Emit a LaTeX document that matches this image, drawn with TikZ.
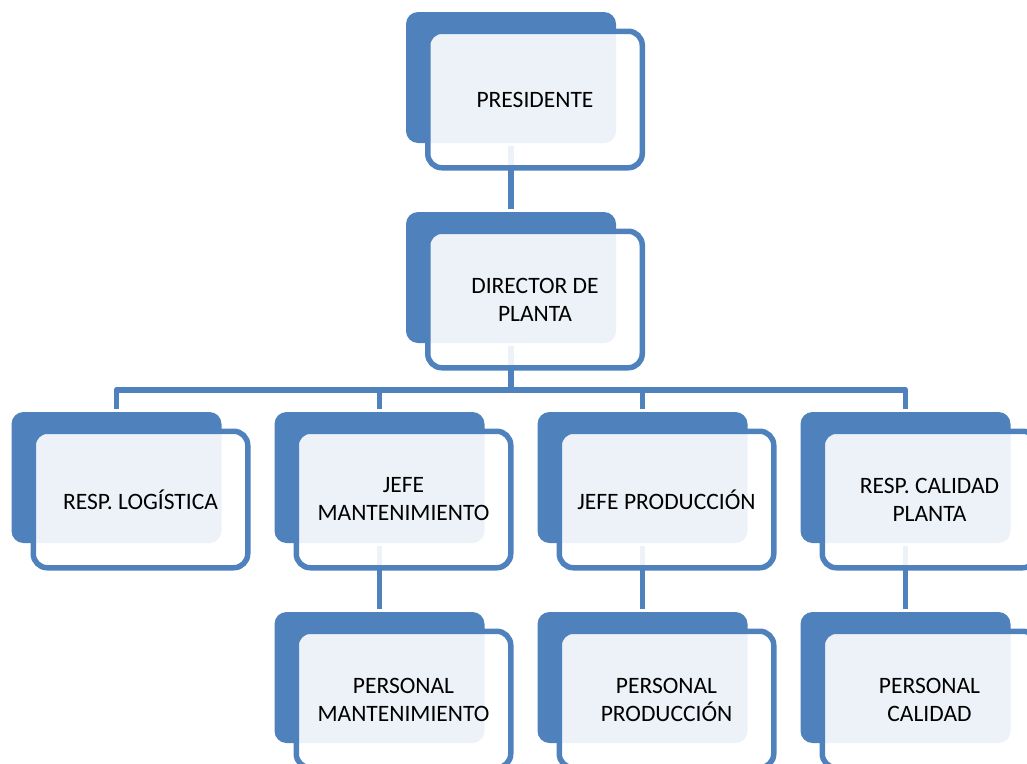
\documentclass[tikz,border=0pt]{standalone}
\usepackage{fontspec}
\setmainfont{Carlito}
\definecolor{orgblue}{HTML}{4F81BD}

\begin{document}
\begin{tikzpicture}[
	x = 1pt, y = -1pt, % pixel-like units, y grows downwards
	node distance = 200pt, % distance between levels
	line width = 5.5pt, % line style
	line join = round,
	font=\fontsize{23.5}{28}\selectfont
	]
	
	\tikzstyle{back}=[
	fill = orgblue,
	draw = none,
	rounded corners = 12pt,
	minimum width = 210pt,
	minimum height = 131pt
	]
	
	\tikzstyle{front}=[
	draw = orgblue,
	fill = white,
	fill opacity = 0.9,
	text opacity = 1,
	rounded corners = 14pt,
	minimum width = 214.5pt,
	minimum height = 136.5pt,
	inner sep = 0pt,
	align = center,
	xshift = 24pt,
	yshift = -22pt
	]
	
	\useasboundingbox (0,0) rectangle (1027,763);
	
	% back boxes
	\node[back] (pres) at (511,77.5) {};
	\node[back] (dir) [below of=pres] {};
	\node[back] (jm) [below of=dir, xshift=-131.5pt] {};
	\node[back] (rl) [left of=jm, node distance=263pt] {};
	\node[back] (jp) [right of=jm, node distance=263pt] {};
	\node[back] (rc) [right of=jp, node distance=263pt] {};
	\node[back] (pm) [below of=jm] {};
	\node[back] (pp) [below of=jp] {};
	\node[back] (pc) [below of=rc] {};
	
	% connectors
	\draw[orgblue] (pres) -- (dir);
	\draw[orgblue] (dir.south) -- ++(0,44) coordinate (bus);
	\draw[orgblue] (rl.north) |- (bus) -| (rc.north);
	\draw[orgblue] (jm.north) -- (jm.north |- bus);
	\draw[orgblue] (jp.north) -- (jp.north |- bus);
	\draw[orgblue]
	(jm) -- (pm)
	(jp) -- (pp)
	(rc) -- (pc);
	
	% front boxes with the texts
	\node[front] (presT) at (pres) {PRESIDENTE};
	\node[front] (dirT) at (dir) {DIRECTOR DE\\PLANTA};
	\node[front] (rlT) at (rl) {RESP. LOGÍSTICA};
	\node[front] (jmT) at (jm) {JEFE\\MANTENIMIENTO};
	\node[front] (jpT) at (jp) {JEFE PRODUCCIÓN};
	\node[front] (rcT) at (rc) {RESP. CALIDAD\\PLANTA};
	\node[front] (pmT) at (pm) {PERSONAL\\MANTENIMIENTO};
	\node[front] (ppT) at (pp) {PERSONAL\\PRODUCCIÓN};
	\node[front] (pcT) at (pc) {PERSONAL\\CALIDAD};
	
\end{tikzpicture}
\end{document}
